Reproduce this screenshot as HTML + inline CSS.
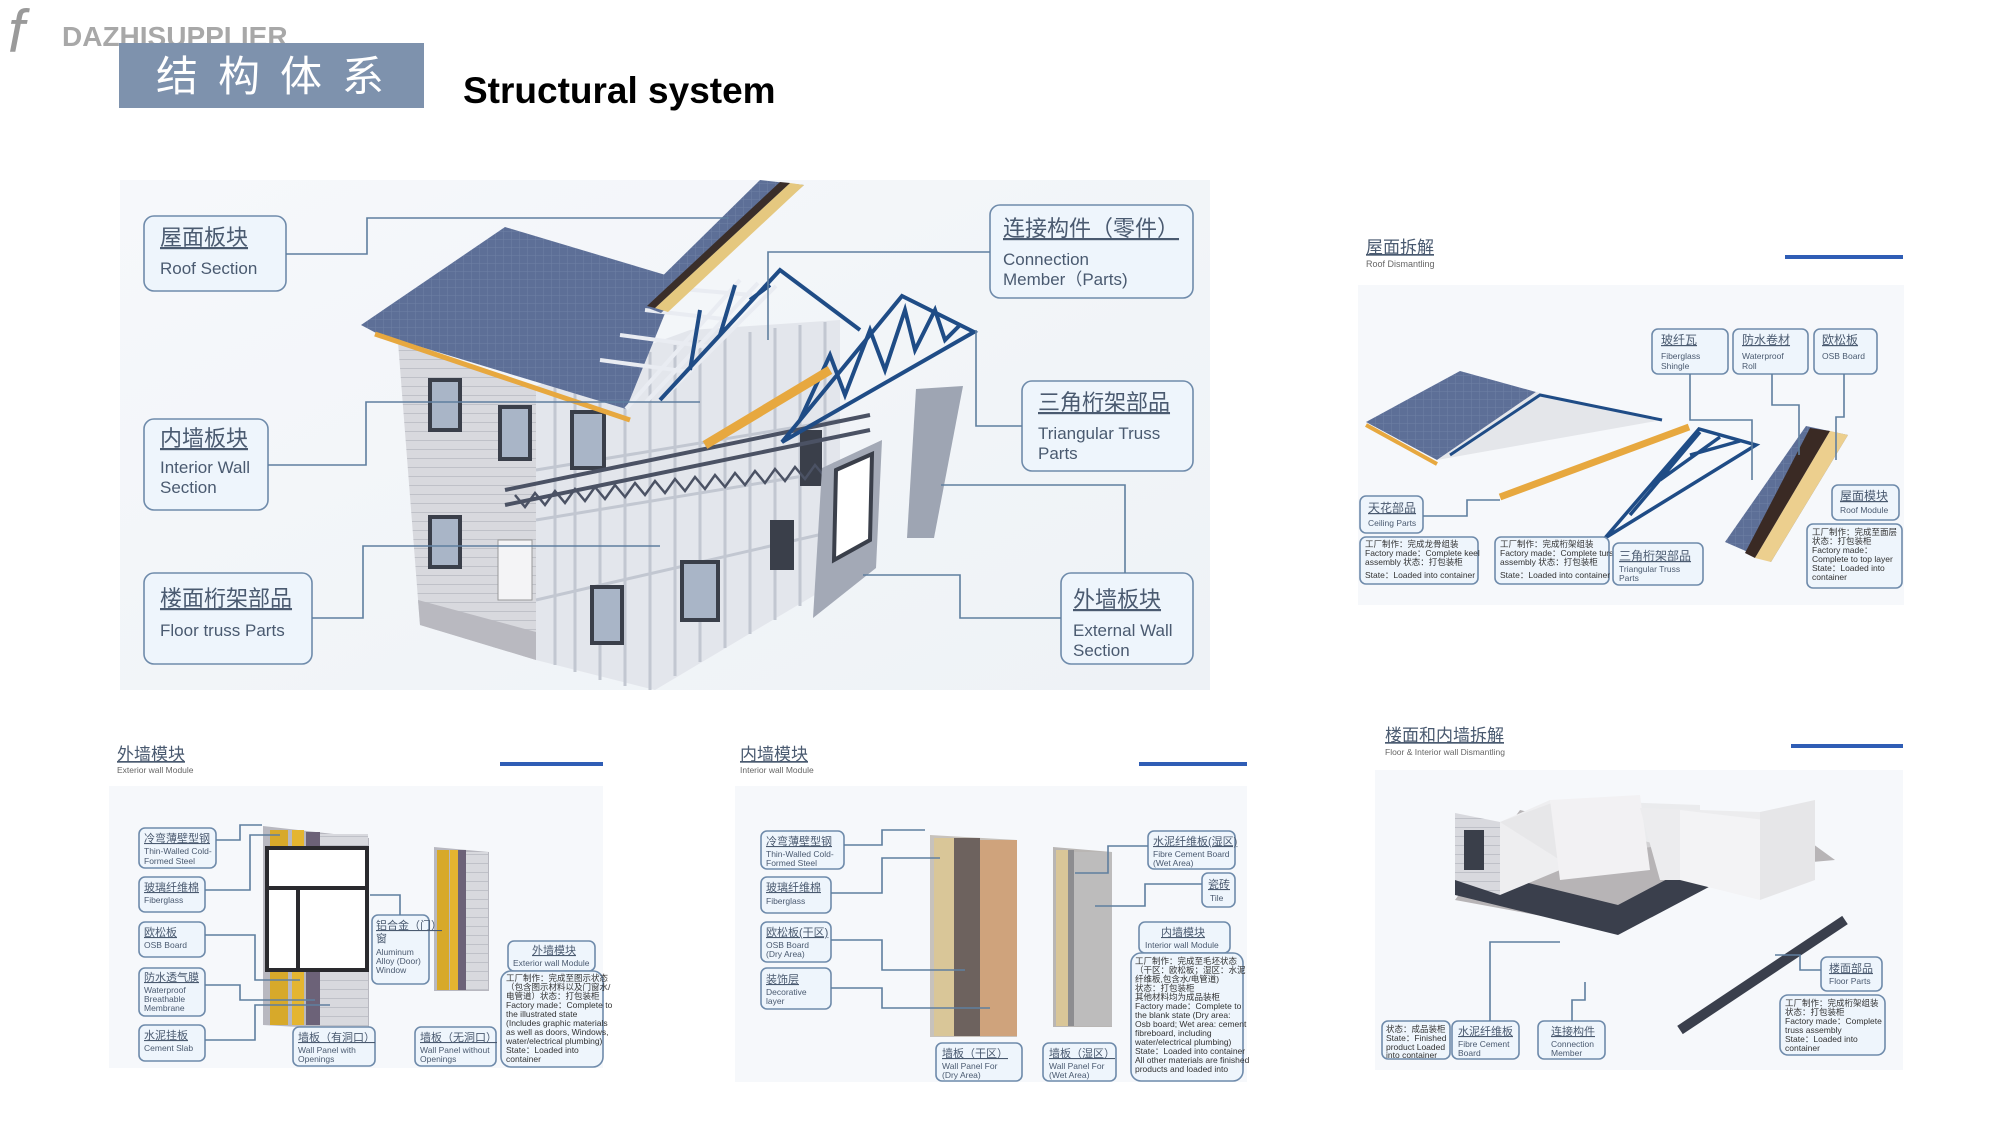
<!DOCTYPE html>
<html><head><meta charset="utf-8"><style>
html,body{margin:0;padding:0;background:#fff;width:2003px;height:1125px;overflow:hidden}
svg{display:block}
text{font-family:"Liberation Sans","Noto Sans CJK SC",sans-serif}
.cn{fill:#4a5a70}
.en{fill:#4a5a70}
.box{fill:#eef5fc;stroke:#6f8bab;stroke-width:1.6}
.ln{fill:none;stroke:#5f7f9f;stroke-width:1.6}
.sm{font-size:8.5px;fill:#333}
</style></head><body>
<svg width="2003" height="1125" viewBox="0 0 2003 1125" xmlns="http://www.w3.org/2000/svg">
<defs>
<linearGradient id="bg1" x1="0" y1="0" x2="1" y2="1"><stop offset="0" stop-color="#f6f8fb"/><stop offset="1" stop-color="#eef2f6"/></linearGradient>
<pattern id="tile" width="8" height="8" patternUnits="userSpaceOnUse"><rect width="8" height="8" fill="#5d6f97"/><path d="M0 8H8M8 0V8" stroke="#6f80a6" stroke-width="1"/></pattern>
<pattern id="siding" width="10" height="9" patternUnits="userSpaceOnUse"><rect width="10" height="9" fill="#d8d9de"/><path d="M0 8.5H10" stroke="#bfc1c8" stroke-width="1"/></pattern>
</defs>

<!-- header -->
<text x="8" y="52" font-size="60" font-style="italic" fill="#9a9a9a" font-family="Liberation Serif,serif">f</text>
<text x="62" y="46" font-size="28" font-weight="bold" fill="#a8a8a8">DAZHISUPPLIER</text>
<rect x="119" y="43" width="305" height="65" fill="#7e92ad"/>
<text x="156" y="91" font-size="42" fill="#fff" letter-spacing="20" font-family="Liberation Sans,'Noto Serif CJK SC',serif">结构体系</text>
<text x="463" y="103" font-size="37" font-weight="bold" fill="#000">Structural system</text>

<!-- main house area -->
<rect x="120" y="180" width="1090" height="510" fill="url(#bg1)"/>
<!-- left siding wall -->
<polygon points="398,342 536,386 536,660 420,625" fill="url(#siding)"/>
<polygon points="418,600 536,632 536,660 420,625" fill="#b9b9c0"/>
<!-- front frame face -->
<polygon points="536,386 690,330 840,320 840,580 655,690 536,660" fill="#e3e6ec"/>
<g stroke="#c2c7d1" stroke-width="3" fill="none">
<path d="M555,382V665M575,376V672M600,368V680M625,360V686M650,352V690M675,345V676M700,340V662M725,336V648M750,332V634M775,328V620M800,325V606M825,322V592"/>
<path d="M536,470L840,420M536,520L840,470M536,600L840,530"/>
</g>
<!-- left wall windows -->
<g fill="#3a3f4a">
<rect x="428" y="378" width="34" height="54"/><rect x="428" y="515" width="34" height="54"/>
<rect x="498" y="405" width="34" height="56"/><rect x="498" y="540" width="34" height="60" fill="#f4f4f6" stroke="#999"/>
<rect x="570" y="410" width="36" height="60"/><rect x="590" y="585" width="34" height="60"/>
<rect x="680" y="560" width="40" height="62"/><rect x="770" y="520" width="24" height="50"/><rect x="800" y="430" width="22" height="56"/>
</g>
<g fill="#a9b5c7"><rect x="432" y="382" width="26" height="46"/><rect x="432" y="519" width="26" height="46"/><rect x="502" y="409" width="26" height="48"/><rect x="574" y="414" width="28" height="52"/><rect x="594" y="589" width="26" height="52"/><rect x="684" y="564" width="32" height="54"/></g>
<!-- floor truss -->
<path d="M505,490L870,415M505,505L870,430" stroke="#4b5264" stroke-width="4"/>
<path d="M515,495l10,12l10,-14l10,12l10,-14l10,12l10,-14l10,12l10,-14l10,12l10,-14l10,12l10,-14l10,12l10,-14l10,12l10,-14l10,12l10,-14l10,12l10,-14l10,12l10,-14l10,12l10,-14l10,12l10,-14l10,12l10,-14l10,12l10,-14l10,12l10,-14" stroke="#4b5264" stroke-width="2.5" fill="none"/>
<!-- roof -->
<polygon points="361,325 505,227 679,279 626,409 378,334" fill="url(#tile)"/>
<path d="M375,334L630,420" stroke="#e7a83f" stroke-width="5"/>
<!-- roof frame grid -->
<polygon points="610,410 760,260 790,270 640,420" fill="none" stroke="#eef0f4" stroke-width="0"/>
<g stroke="#e9ecf2" stroke-width="4" fill="none">
<path d="M626,409L740,280M646,402L758,283M666,395L776,286"/>
<path d="M600,360L690,372M620,335L710,347M645,310L732,320M670,288L752,295"/>
</g>
<!-- roof strip -->
<polygon points="760,180 804,185 661,313 635,303" fill="url(#tile)"/>
<polygon points="790,183 804,185 668,312 655,308" fill="#e5c87f"/>
<polygon points="780,182 790,183 655,308 647,306" fill="#3a2e2a"/>
<!-- trusses -->
<g stroke="#1f4c86" stroke-width="4" fill="none">
<path d="M660,400L780,270L860,330M690,370L700,310M720,335L735,285M750,300L770,285"/>
<path d="M782,442L902,296L974,332Z"/>
<path d="M800,420L830,355L845,395L870,330L885,370L905,310L915,350L935,310L945,340L960,325"/>
</g>
<path d="M705,445L830,370" stroke="#e7a83f" stroke-width="9"/>
<!-- panels -->
<polygon points="916,389 963,386 934,538 907,538" fill="#9ea5b3"/>
<polygon points="822,468 882,440 876,568 813,618" fill="#a3a9b6"/>
<polygon points="836,470 872,454 870,540 834,560" fill="#fff" stroke="#3a3f4a" stroke-width="4"/>

<!-- main labels -->
<g>
<rect class="box" x="144" y="216" width="142" height="75" rx="10"/>
<text x="160" y="245" font-size="22" class="cn" text-decoration="underline">屋面板块</text>
<text x="160" y="274" font-size="17" class="en">Roof Section</text>
<rect class="box" x="144" y="419" width="124" height="91" rx="10"/>
<text x="160" y="446" font-size="22" class="cn" text-decoration="underline">内墙板块</text>
<text x="160" y="473" font-size="17" class="en">Interior Wall</text>
<text x="160" y="493" font-size="17" class="en">Section</text>
<rect class="box" x="144" y="573" width="168" height="91" rx="10"/>
<text x="160" y="606" font-size="22" class="cn" text-decoration="underline">楼面桁架部品</text>
<text x="160" y="636" font-size="17" class="en">Floor truss Parts</text>
<rect class="box" x="990" y="205" width="203" height="93" rx="10"/>
<text x="1003" y="236" font-size="22" class="cn" text-decoration="underline">连接构件（零件）</text>
<text x="1003" y="265" font-size="17" class="en">Connection</text>
<text x="1003" y="285" font-size="17" class="en">Member（Parts)</text>
<rect class="box" x="1022" y="381" width="171" height="90" rx="10"/>
<text x="1038" y="410" font-size="22" class="cn" text-decoration="underline">三角桁架部品</text>
<text x="1038" y="439" font-size="17" class="en">Triangular Truss</text>
<text x="1038" y="459" font-size="17" class="en">Parts</text>
<rect class="box" x="1061" y="573" width="132" height="91" rx="10"/>
<text x="1073" y="607" font-size="22" class="cn" text-decoration="underline">外墙板块</text>
<text x="1073" y="636" font-size="17" class="en">External Wall</text>
<text x="1073" y="656" font-size="17" class="en">Section</text>
<path class="ln" d="M286,254H367V218H729"/>
<path class="ln" d="M268,465H366V402H700"/>
<path class="ln" d="M312,618H363V546H660"/>
<path class="ln" d="M990,252H768V340"/>
<path class="ln" d="M1022,426H976V330"/>
<path class="ln" d="M1061,618H960V575H863"/>
<path class="ln" d="M1125,573V485H941"/>
</g>

<!-- Roof dismantling -->
<text x="1366" y="253" font-size="17" class="cn" text-decoration="underline">屋面拆解</text>
<text x="1366" y="267" font-size="9" fill="#666">Roof Dismantling</text>
<rect x="1785" y="255" width="118" height="4" fill="#2f5db5"/>
<rect x="1358" y="285" width="546" height="320" fill="#f6f8fb"/>
<polygon points="1366,422 1460,371 1536,392 1437,460" fill="url(#tile)"/>
<path d="M1437,460L1662,420L1536,392Z" fill="#e4e6ea"/>
<path d="M1450,455L1540,395L1662,420" stroke="#1f4c86" stroke-width="3" fill="none"/>
<path d="M1366,425L1437,464" stroke="#e7a83f" stroke-width="4"/>
<path d="M1500,497L1689,427" stroke="#e7a83f" stroke-width="7"/>
<path d="M1605,538L1699,429L1756,445Z M1630,515L1700,432M1660,480L1720,437M1690,455L1740,441" stroke="#1f4c86" stroke-width="3.5" fill="none"/>
<polygon points="1725,542 1806,426 1848,435 1771,562" fill="url(#tile)"/>
<polygon points="1810,428 1830,431 1755,558 1745,553" fill="#3a2a24"/>
<polygon points="1830,431 1848,435 1771,562 1755,558" fill="#eccf8e"/>
<g>
<rect class="box" x="1652" y="329" width="76" height="45" rx="6"/><text x="1661" y="344" font-size="12" class="cn" text-decoration="underline">玻纤瓦</text><text x="1661" y="359" font-size="8.5" class="en">Fiberglass</text><text x="1661" y="369" font-size="8.5" class="en">Shingle</text>
<rect class="box" x="1733" y="329" width="75" height="45" rx="6"/><text x="1742" y="344" font-size="12" class="cn" text-decoration="underline">防水卷材</text><text x="1742" y="359" font-size="8.5" class="en">Waterproof</text><text x="1742" y="369" font-size="8.5" class="en">Roll</text>
<rect class="box" x="1814" y="329" width="63" height="45" rx="6"/><text x="1822" y="344" font-size="12" class="cn" text-decoration="underline">欧松板</text><text x="1822" y="359" font-size="8.5" class="en">OSB Board</text>
<path class="ln" d="M1690,374V420H1752V480M1772,374V405H1799V455M1844,374V417H1836V460"/>
<rect class="box" x="1360" y="496" width="63" height="37" rx="6"/><text x="1368" y="512" font-size="12" class="cn" text-decoration="underline">天花部品</text><text x="1368" y="526" font-size="8.5" class="en">Ceiling Parts</text>
<path class="ln" d="M1423,516H1467V500H1500"/>
<rect class="box" x="1360" y="537" width="118" height="47" rx="6"/>
<text x="1365" y="547" class="sm">工厂制作：完成龙骨组装</text><text x="1365" y="556" class="sm">Factory made：Complete keel</text><text x="1365" y="565" class="sm">assembly 状态：打包装柜</text><text x="1365" y="578" class="sm">State：Loaded into container</text>
<rect class="box" x="1495" y="537" width="114" height="47" rx="6"/>
<text x="1500" y="547" class="sm">工厂制作：完成桁架组装</text><text x="1500" y="556" class="sm">Factory made：Complete turss</text><text x="1500" y="565" class="sm">assembly 状态：打包装柜</text><text x="1500" y="578" class="sm">State：Loaded into container</text>
<rect class="box" x="1613" y="543" width="90" height="42" rx="6"/><text x="1619" y="560" font-size="12" class="cn" text-decoration="underline">三角桁架部品</text><text x="1619" y="572" font-size="8.5" class="en">Triangular Truss</text><text x="1619" y="581" font-size="8.5" class="en">Parts</text>
<rect class="box" x="1832" y="485" width="67" height="35" rx="6"/><text x="1840" y="500" font-size="12" class="cn" text-decoration="underline">屋面模块</text><text x="1840" y="513" font-size="8.5" class="en">Roof Module</text>
<rect class="box" x="1807" y="524" width="95" height="64" rx="6"/>
<text x="1812" y="535" class="sm">工厂制作：完成至面层</text><text x="1812" y="544" class="sm">状态：打包装柜</text><text x="1812" y="553" class="sm">Factory made：</text><text x="1812" y="562" class="sm">Complete to top layer</text><text x="1812" y="571" class="sm">State：Loaded into</text><text x="1812" y="580" class="sm">container</text>
</g>

<!-- Exterior wall module -->
<text x="117" y="760" font-size="17" class="cn" text-decoration="underline">外墙模块</text>
<text x="117" y="773" font-size="8.5" fill="#666">Exterior wall Module</text>
<rect x="500" y="762" width="103" height="4" fill="#2f5db5"/>
<rect x="109" y="786" width="494" height="282" fill="#f6f8fb"/>
<polygon points="263,826 369,838 369,1031 263,1025" fill="#b8b8c0"/>
<rect x="270" y="830" width="18" height="195" fill="#d7a92a"/><rect x="292" y="830" width="12" height="195" fill="#e4b530"/><rect x="306" y="832" width="14" height="193" fill="#6c6278"/><rect x="320" y="834" width="48" height="195" fill="url(#siding)"/>
<rect x="267" y="848" width="100" height="122" fill="#fff" stroke="#2a2a2e" stroke-width="4"/>
<path d="M267,888H367M298,888V970" stroke="#2a2a2e" stroke-width="4"/>
<polygon points="434,847 489,852 489,991 434,991" fill="#b8b8c0"/>
<rect x="437" y="850" width="12" height="140" fill="#d7a92a"/><rect x="450" y="850" width="8" height="140" fill="#e4b530"/><rect x="458" y="850" width="8" height="140" fill="#6c6278"/><rect x="466" y="852" width="22" height="138" fill="url(#siding)"/>
<g>
<rect class="box" x="139" y="828" width="77" height="40" rx="6"/><text x="144" y="842" font-size="11" class="cn" text-decoration="underline">冷弯薄壁型钢</text><text x="144" y="854" font-size="8.5" class="en">Thin-Walled Cold-</text><text x="144" y="864" font-size="8.5" class="en">Formed Steel</text>
<rect class="box" x="139" y="877" width="66" height="35" rx="6"/><text x="144" y="891" font-size="11" class="cn" text-decoration="underline">玻璃纤维棉</text><text x="144" y="903" font-size="8.5" class="en">Fiberglass</text>
<rect class="box" x="139" y="922" width="66" height="35" rx="6"/><text x="144" y="936" font-size="11" class="cn" text-decoration="underline">欧松板</text><text x="144" y="948" font-size="8.5" class="en">OSB Board</text>
<rect class="box" x="139" y="968" width="66" height="48" rx="6"/><text x="144" y="981" font-size="11" class="cn" text-decoration="underline">防水透气膜</text><text x="144" y="993" font-size="8.5" class="en">Waterproof</text><text x="144" y="1002" font-size="8.5" class="en">Breathable</text><text x="144" y="1011" font-size="8.5" class="en">Membrane</text>
<rect class="box" x="139" y="1025" width="66" height="36" rx="6"/><text x="144" y="1039" font-size="11" class="cn" text-decoration="underline">水泥挂板</text><text x="144" y="1051" font-size="8.5" class="en">Cement Slab</text>
<rect class="box" x="372" y="915" width="57" height="69" rx="6"/><text x="376" y="929" font-size="11" class="cn" text-decoration="underline">铝合金（门）</text><text x="376" y="942" font-size="11" class="cn">窗</text><text x="376" y="955" font-size="8.5" class="en">Aluminum</text><text x="376" y="964" font-size="8.5" class="en">Alloy (Door)</text><text x="376" y="973" font-size="8.5" class="en">Window</text>
<rect class="box" x="293" y="1027" width="82" height="39" rx="6"/><text x="298" y="1041" font-size="11" class="cn" text-decoration="underline">墙板（有洞口）</text><text x="298" y="1053" font-size="8.5" class="en">Wall Panel with</text><text x="298" y="1062" font-size="8.5" class="en">Openings</text>
<rect class="box" x="415" y="1027" width="81" height="39" rx="6"/><text x="420" y="1041" font-size="11" class="cn" text-decoration="underline">墙板（无洞口）</text><text x="420" y="1053" font-size="8.5" class="en">Wall Panel without</text><text x="420" y="1062" font-size="8.5" class="en">Openings</text>
<rect class="box" x="508" y="941" width="87" height="30" rx="6"/><text x="532" y="954" font-size="11" class="cn" text-decoration="underline">外墙模块</text><text x="513" y="966" font-size="8.5" class="en">Exterior wall Module</text>
<rect class="box" x="501" y="971" width="102" height="96" rx="10"/>
<text x="506" y="981" class="sm">工厂制作：完成至图示状态</text><text x="506" y="990" class="sm">（包含图示材料以及门窗水/</text><text x="506" y="999" class="sm">电管道）状态：打包装柜</text><text x="506" y="1008" class="sm">Factory made：Complete to</text><text x="506" y="1017" class="sm">the illustrated state</text><text x="506" y="1026" class="sm">(Includes graphic materials</text><text x="506" y="1035" class="sm">as well as doors, Windows,</text><text x="506" y="1044" class="sm">water/electrical plumbing)</text><text x="506" y="1053" class="sm">State：Loaded into</text><text x="506" y="1062" class="sm">container</text>
<path class="ln" d="M216,840H240V825H262M205,890H250V835H280M205,935H255V980H300M205,985H240V1000H315M205,1040H255V1005H330M400,915V895H370"/>
</g>

<!-- Interior wall module -->
<text x="740" y="760" font-size="17" class="cn" text-decoration="underline">内墙模块</text>
<text x="740" y="773" font-size="8.5" fill="#666">Interior wall Module</text>
<rect x="1139" y="762" width="108" height="4" fill="#2f5db5"/>
<rect x="735" y="786" width="512" height="296" fill="#f6f8fb"/>
<polygon points="930,835 1017,840 1017,1037 930,1037" fill="#c7c2bc"/>
<rect x="934" y="838" width="20" height="198" fill="#d9c698"/><rect x="954" y="838" width="26" height="198" fill="#6d625e"/><rect x="980" y="840" width="37" height="196" fill="#cfa37c"/>
<polygon points="1053,847 1112,852 1112,1027 1053,1027" fill="#b9b6b4"/>
<rect x="1056" y="850" width="12" height="176" fill="#d9c698"/><rect x="1068" y="850" width="6" height="176" fill="#8d8d90"/><rect x="1074" y="852" width="38" height="174" fill="#bdbcbc"/>
<g>
<rect class="box" x="761" y="831" width="83" height="38" rx="6"/><text x="766" y="845" font-size="11" class="cn" text-decoration="underline">冷弯薄壁型钢</text><text x="766" y="857" font-size="8.5" class="en">Thin-Walled Cold-</text><text x="766" y="866" font-size="8.5" class="en">Formed Steel</text>
<rect class="box" x="761" y="877" width="70" height="36" rx="6"/><text x="766" y="891" font-size="11" class="cn" text-decoration="underline">玻璃纤维棉</text><text x="766" y="904" font-size="8.5" class="en">Fiberglass</text>
<rect class="box" x="761" y="922" width="70" height="40" rx="6"/><text x="766" y="936" font-size="11" class="cn" text-decoration="underline">欧松板(干区)</text><text x="766" y="948" font-size="8.5" class="en">OSB Board</text><text x="766" y="957" font-size="8.5" class="en"> (Dry Area)</text>
<rect class="box" x="761" y="968" width="70" height="41" rx="6"/><text x="766" y="983" font-size="11" class="cn" text-decoration="underline">装饰层</text><text x="766" y="995" font-size="8.5" class="en">Decorative</text><text x="766" y="1004" font-size="8.5" class="en">layer</text>
<rect class="box" x="936" y="1043" width="86" height="38" rx="6"/><text x="942" y="1057" font-size="11" class="cn" text-decoration="underline">墙板（干区）</text><text x="942" y="1069" font-size="8.5" class="en">Wall Panel For</text><text x="942" y="1078" font-size="8.5" class="en"> (Dry Area)</text>
<rect class="box" x="1043" y="1043" width="73" height="38" rx="6"/><text x="1049" y="1057" font-size="11" class="cn" text-decoration="underline">墙板（湿区）</text><text x="1049" y="1069" font-size="8.5" class="en">Wall Panel For</text><text x="1049" y="1078" font-size="8.5" class="en"> (Wet Area)</text>
<rect class="box" x="1148" y="831" width="87" height="38" rx="6"/><text x="1153" y="845" font-size="11" class="cn" text-decoration="underline">水泥纤维板(湿区)</text><text x="1153" y="857" font-size="8.5" class="en">Fibre Cement Board</text><text x="1153" y="866" font-size="8.5" class="en"> (Wet Area)</text>
<rect class="box" x="1202" y="873" width="33" height="34" rx="6"/><text x="1208" y="888" font-size="11" class="cn" text-decoration="underline">瓷砖</text><text x="1210" y="901" font-size="8.5" class="en">Tile</text>
<rect class="box" x="1139" y="922" width="91" height="31" rx="6"/><text x="1161" y="936" font-size="11" class="cn" text-decoration="underline">内墙模块</text><text x="1145" y="948" font-size="8.5" class="en">Interior wall Module</text>
<rect class="box" x="1131" y="953" width="112" height="128" rx="10"/>
<text x="1135" y="964" class="sm">工厂制作：完成至毛坯状态</text><text x="1135" y="973" class="sm">（干区：欧松板；湿区：水泥</text><text x="1135" y="982" class="sm">纤维板,包含水/电管道)</text><text x="1135" y="991" class="sm">状态：打包装柜</text><text x="1135" y="1000" class="sm">其他材料均为成品装柜</text><text x="1135" y="1009" class="sm">Factory made：Complete to</text><text x="1135" y="1018" class="sm">the blank state (Dry area:</text><text x="1135" y="1027" class="sm">Osb board; Wet area: cement</text><text x="1135" y="1036" class="sm">fibreboard, including</text><text x="1135" y="1045" class="sm">water/electrical plumbing)</text><text x="1135" y="1054" class="sm">State：Loaded into container</text><text x="1135" y="1063" class="sm">All other materials are finished</text><text x="1135" y="1072" class="sm">products and loaded into</text>
<path class="ln" d="M844,845H882V830H925M831,893H882V858H940M831,940H882V970H965M831,988H882V1008H990M1148,846H1108V873H1075M1202,884H1145V906H1095"/>
</g>

<!-- Floor & interior wall dismantling -->
<text x="1385" y="741" font-size="17" class="cn" text-decoration="underline">楼面和内墙拆解</text>
<text x="1385" y="755" font-size="8.5" fill="#666">Floor &amp; Interior wall Dismantling</text>
<rect x="1791" y="744" width="112" height="4" fill="#2f5db5"/>
<rect x="1375" y="770" width="528" height="300" fill="#f6f8fb"/>
<polygon points="1455,900 1618,930 1720,870 1835,860 1780,820 1700,855 1520,810" fill="#b7b4b6"/>
<polygon points="1455,865 1618,905 1618,935 1455,895" fill="#3a3f4c"/>
<polygon points="1618,905 1760,830 1760,860 1618,935" fill="#3a3f4c"/>
<polygon points="1455,813 1500,822 1500,895 1455,880" fill="url(#siding)"/>
<rect x="1464" y="830" width="20" height="40" fill="#3a3f4a"/>
<polygon points="1500,822 1550,800 1560,870 1500,895" fill="#eeeef0"/>
<polygon points="1500,822 1560,800 1700,805 1700,840 1560,860" fill="#e3e2e4" opacity="0.6"/>
<polygon points="1550,800 1640,795 1650,870 1560,880" fill="#f2f1f3"/>
<polygon points="1640,808 1760,812 1785,880 1660,880" fill="#ececee"/>
<polygon points="1680,810 1765,820 1760,900 1680,880" fill="#f3f3f5"/>
<polygon points="1760,812 1815,800 1815,880 1760,900" fill="#e6e6e8"/>
<path d="M1680,1030L1845,920" stroke="#3a3f4c" stroke-width="10"/>
<g>
<rect class="box" x="1382" y="1021" width="68" height="38" rx="6"/><text x="1386" y="1032" class="sm">状态：成品装柜</text><text x="1386" y="1041" class="sm">State：Finished</text><text x="1386" y="1050" class="sm">product Loaded</text><text x="1386" y="1058" class="sm">into container</text>
<rect class="box" x="1452" y="1021" width="67" height="38" rx="6"/><text x="1458" y="1035" font-size="11" class="cn" text-decoration="underline">水泥纤维板</text><text x="1458" y="1047" font-size="8.5" class="en">Fibre Cement</text><text x="1458" y="1056" font-size="8.5" class="en">Board</text>
<rect class="box" x="1538" y="1021" width="67" height="38" rx="6"/><text x="1551" y="1035" font-size="11" class="cn" text-decoration="underline">连接构件</text><text x="1551" y="1047" font-size="8.5" class="en">Connection</text><text x="1551" y="1056" font-size="8.5" class="en">Member</text>
<rect class="box" x="1821" y="957" width="61" height="34" rx="6"/><text x="1829" y="972" font-size="11" class="cn" text-decoration="underline">楼面部品</text><text x="1829" y="984" font-size="8.5" class="en">Floor Parts</text>
<rect class="box" x="1780" y="995" width="105" height="60" rx="8"/>
<text x="1785" y="1006" class="sm">工厂制作：完成桁架组装</text><text x="1785" y="1015" class="sm">状态：打包装柜</text><text x="1785" y="1024" class="sm">Factory made：Complete</text><text x="1785" y="1033" class="sm">truss assembly</text><text x="1785" y="1042" class="sm">State：Loaded into</text><text x="1785" y="1051" class="sm">container</text>
<path class="ln" d="M1490,1021V942H1560M1572,1021V1000H1585V982M1821,970H1800V955H1775"/>
</g>
</svg>
</body></html>
